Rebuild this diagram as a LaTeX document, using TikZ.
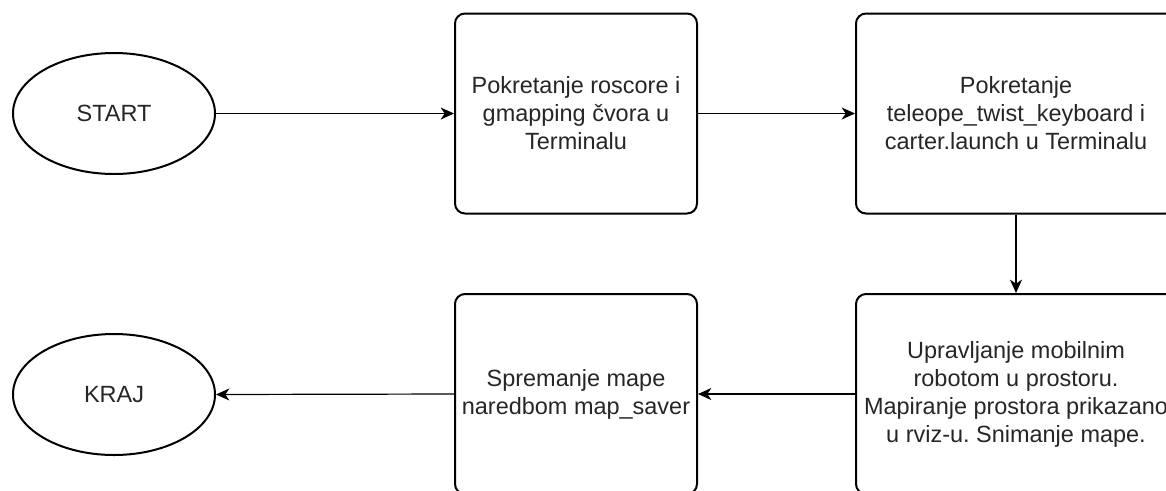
\documentclass[tikz,border=0pt]{standalone}
\usepackage{fontspec}
\setmainfont{Liberation Sans}
\frenchspacing
\usetikzlibrary{shapes.geometric,arrows.meta}
\begin{document}
\begin{tikzpicture}[x=0.75pt,y=-0.75pt,
  every node/.style={font=\fontsize{17.6pt}{21pt}\selectfont, text=black!85, align=center, inner sep=0pt},
  terminal/.style={draw=black, ellipse, line width=1.5pt, minimum width=151.5pt, minimum height=90.75pt},
  procbox/.style={draw=black, rectangle, rounded corners=7.5pt, line width=1.5pt, minimum height=150pt},
  flow/.style={draw=black, line width=0.9pt, -{Stealth[length=10pt,width=9pt,inset=3pt]}}]
\useasboundingbox (0,0) rectangle (1166,490);
\clip (0,0) rectangle (1166,490);
\node[terminal] (start) at (114,113.5) {START};
\node[procbox, minimum width=181.5pt] (b1) at (576,113.5) {Pokretanje roscore i\\gmapping čvora u\\Terminalu};
\node[procbox, minimum width=240pt] (b2) at (1016,113.5) {Pokretanje\\teleope\_twist\_keyboard i\\carter.launch u Terminalu};
\node[procbox, minimum width=240pt] (b3) at (1016,394) {Upravljanje mobilnim\\robotom u prostoru.\\Mapiranje prostora prikazano\\u rviz-u. Snimanje mape.};
\node[procbox, minimum width=181.5pt] (b4) at (576,394) {Spremanje mape\\naredbom map\_saver};
\node[terminal] (kraj) at (114,394.5) {KRAJ};
\draw[flow] (start.east) -- (b1.west);
\draw[flow] (b1.east) -- (b2.west);
\draw[flow] (b2.south) -- (b3.north);
\draw[flow] (b3.west) -- (b4.east);
\draw[flow] (b4.west) -- (kraj.east);
\end{tikzpicture}
\end{document}
